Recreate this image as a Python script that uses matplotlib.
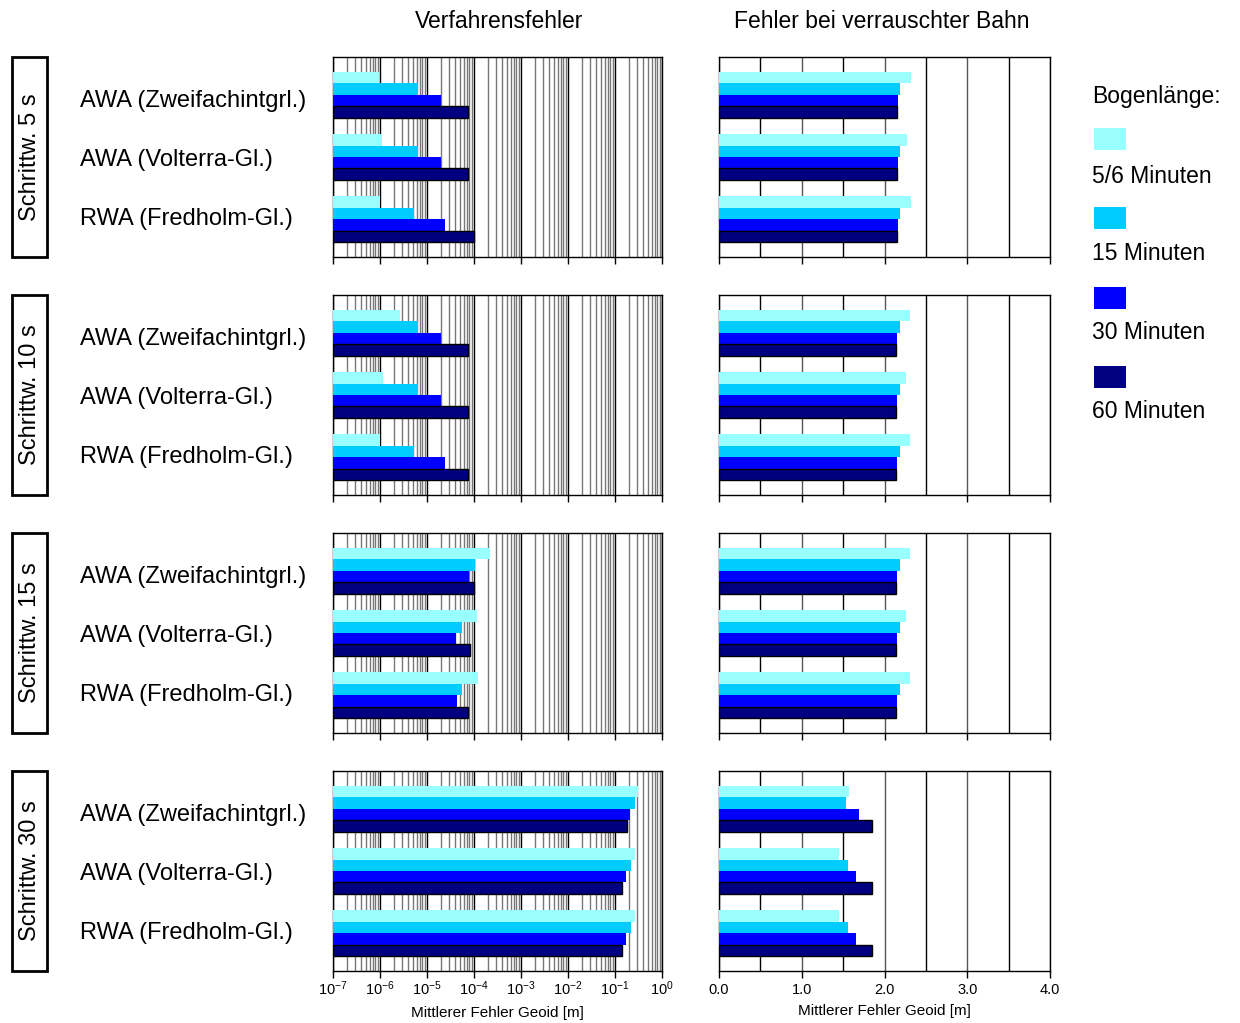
import matplotlib
matplotlib.use("Agg")
import matplotlib.pyplot as plt
import matplotlib.transforms as mtransforms
from matplotlib.ticker import FixedLocator, NullFormatter
from matplotlib.patches import Rectangle
import numpy as np

plt.rcParams['font.family'] = ['Liberation Sans', 'DejaVu Sans']
plt.rcParams['mathtext.fontset'] = 'custom'
plt.rcParams['mathtext.rm'] = 'Liberation Sans'
plt.rcParams['mathtext.it'] = 'Liberation Sans'
plt.rcParams['mathtext.default'] = 'regular'

# data
methods = ["AWA (Zweifachintgrl.)", "AWA (Volterra-Gl.)", "RWA (Fredholm-Gl.)"]
steps = ["Schrittw. 5 s", "Schrittw. 10 s", "Schrittw. 15 s", "Schrittw. 30 s"]
arcs = ["5/6 Minuten", "15 Minuten", "30 Minuten", "60 Minuten"]
log_decades = list(range(-7, 1))
lin_ticks = [0, 1, 2, 3, 4]

# Verfahrensfehler [m], per step: rows = methods, cols = arcs
proc_5s = [[9.7e-7, 6.3e-6, 2.0e-5, 7.6e-5],
           [1.08e-6, 6.3e-6, 2.0e-5, 7.6e-5],
           [1.0e-6, 5.2e-6, 2.4e-5, 1.0e-4]]
proc_10s = [[2.7e-6, 6.3e-6, 2.0e-5, 7.3e-5],
            [1.14e-6, 6.3e-6, 2.0e-5, 7.3e-5],
            [1.0e-6, 5.2e-6, 2.4e-5, 7.6e-5]]
proc_15s = [[2.15e-4, 1.05e-4, 7.8e-5, 9.8e-5],
            [1.15e-4, 5.6e-5, 4.1e-5, 8.1e-5],
            [1.2e-4, 5.6e-5, 4.4e-5, 7.5e-5]]
proc_30s = [[0.31, 0.27, 0.21, 0.178],
            [0.27, 0.22, 0.17, 0.144],
            [0.27, 0.22, 0.17, 0.144]]

# Fehler bei verrauschter Bahn [m]
noisy_5s = [[2.32, 2.19, 2.16, 2.15],
            [2.275, 2.19, 2.16, 2.15],
            [2.32, 2.19, 2.16, 2.15]]
noisy_10s = [[2.31, 2.19, 2.15, 2.14],
             [2.26, 2.19, 2.15, 2.14],
             [2.31, 2.19, 2.15, 2.14]]
noisy_15s = [[2.31, 2.19, 2.15, 2.14],
             [2.26, 2.19, 2.15, 2.14],
             [2.31, 2.19, 2.15, 2.14]]
noisy_30s = [[1.575, 1.54, 1.695, 1.845],
             [1.455, 1.563, 1.66, 1.85],
             [1.455, 1.563, 1.66, 1.85]]

proc_all = [proc_5s, proc_10s, proc_15s, proc_30s]
noisy_all = [noisy_5s, noisy_10s, noisy_15s, noisy_30s]

colors = ["#99FFFF", "#00CCFF", "#0000FF", "#000080"]

W, H = 1240, 1023
fig = plt.figure(figsize=(W / 100, H / 100), dpi=100)

row_top = [57, 295, 533, 771]
row_h = 200
bar_h = 0.185
offsets = [-1.5, -0.5, 0.5, 1.5]
ypos = np.arange(len(methods))


def draw_bars(ax, data, left):
    for j in range(len(arcs)):
        vals = [data[i][j] for i in range(len(methods))]
        kw = dict(edgecolor="black", linewidth=1) if j == 3 else dict(linewidth=0)
        ax.barh(ypos + offsets[j] * bar_h, np.array(vals) - left, left=left,
                height=bar_h, color=colors[j], zorder=3, **kw)
    ax.set_ylim(2.61, -0.61)
    ax.set_yticks([])
    for s in ax.spines.values():
        s.set_linewidth(1)


for r in range(4):
    bottom = 1 - (row_top[r] + row_h) / H
    axl = fig.add_axes([333 / W, bottom, 329 / W, row_h / H])
    axr = fig.add_axes([719 / W, bottom, 331 / W, row_h / H])

    # left: log scale
    axl.set_xscale("log")
    draw_bars(axl, proc_all[r], 1e-7)
    axl.set_xlim(1e-7, 1e0)
    majors = [10.0 ** e for e in log_decades]
    minors = [k * 10.0 ** e for e in log_decades[:-1] for k in range(2, 10)]
    axl.xaxis.set_major_locator(FixedLocator(majors))
    axl.xaxis.set_minor_locator(FixedLocator(minors))
    axl.xaxis.set_minor_formatter(NullFormatter())
    axl.grid(which="major", axis="x", color="black", linewidth=1, zorder=1)
    axl.grid(which="minor", axis="x", color="#777777", linewidth=1, zorder=1)
    axl.tick_params(axis="x", which="major", direction="out", length=5, width=1,
                    labelsize=10.5, pad=1)
    axl.tick_params(axis="x", which="minor", length=0)

    # right: linear
    draw_bars(axr, noisy_all[r], 0)
    axr.set_xlim(0, 4)
    axr.xaxis.set_major_locator(FixedLocator(lin_ticks))
    axr.xaxis.set_minor_locator(FixedLocator([0.5, 1.5, 2.5, 3.5]))
    axr.grid(which="major", axis="x", color="#555555", linewidth=1, zorder=1)
    axr.grid(which="minor", axis="x", color="black", linewidth=1, zorder=1)
    axr.tick_params(axis="x", which="major", direction="out", length=5, width=1,
                    labelsize=10.5, pad=4)
    axr.tick_params(axis="x", which="minor", length=0)

    if r == 3:
        axl.set_xticklabels([r"10$^{%d}$" % e for e in log_decades])
        axr.set_xticklabels(["%.1f" % v for v in lin_ticks])
        axl.set_xlabel("Mittlerer Fehler Geoid [m]", fontsize=11, labelpad=6)
        axr.set_xlabel("Mittlerer Fehler Geoid [m]", fontsize=11, labelpad=5)
    else:
        axl.set_xticklabels([])
        axr.set_xticklabels([])

    # method labels
    trans = mtransforms.blended_transform_factory(fig.transFigure, axl.transData)
    for i, m in enumerate(methods):
        fig.text(80 / W, 0.095 + ypos[i] * 0.952, m, transform=trans, fontsize=17,
                 ha="left", va="center")

    # step label in a box
    cy = 1 - (row_top[r] + row_h / 2) / H
    fig.text(30 / W, cy, steps[r], rotation=90, fontsize=17, ha="center", va="center")
    fig.patches.append(Rectangle((12 / W, 1 - (row_top[r] + row_h) / H), 35 / W, row_h / H,
                                 transform=fig.transFigure, fill=False,
                                 edgecolor="black", linewidth=2))

# column titles
fig.text(499 / W, 1 - 21 / H, "Verfahrensfehler", fontsize=16.5, ha="center", va="center")
fig.text(882 / W, 1 - 21 / H, "Fehler bei verrauschter Bahn", fontsize=16.5,
         ha="center", va="center")

# legend
fig.text(1092 / W, 1 - 97 / H, "Bogenlänge:", fontsize=16.5, ha="left", va="center")
patch_y = [128, 207, 287, 366]
label_y = [176, 254, 333, 412]
for k in range(4):
    fig.patches.append(Rectangle((1094 / W, 1 - (patch_y[k] + 22) / H), 32 / W, 22 / H,
                                 transform=fig.transFigure, facecolor=colors[k],
                                 edgecolor="none"))
    fig.text(1092 / W, 1 - label_y[k] / H, arcs[k], fontsize=16.5, ha="left", va="center")

fig.savefig("out.png", dpi=100)
